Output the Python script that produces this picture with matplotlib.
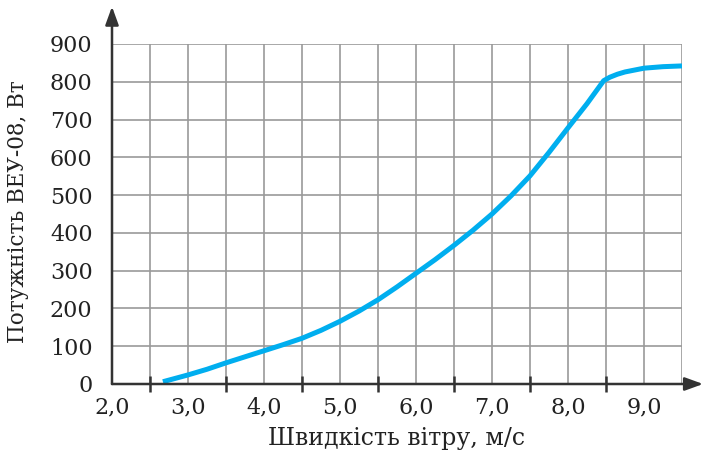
import matplotlib
matplotlib.use('Agg')
import matplotlib.pyplot as plt
from matplotlib.ticker import FixedLocator, FuncFormatter

# wind speed, m/s and power, W
speed = [2.67, 3.0, 3.25, 3.5, 3.75, 4.0, 4.25, 4.5, 4.75, 5.0, 5.25, 5.5, 5.75,
         6.0, 6.25, 6.5, 6.75, 7.0, 7.25, 7.5, 7.75, 8.0, 8.25, 8.47, 8.55,
         8.65, 8.75, 9.0, 9.25, 9.5]
power = [6, 24, 39, 56, 72, 88, 104, 121, 142, 166, 193, 223, 257,
         293, 329, 367, 407, 450, 498, 551, 613, 678, 742, 803, 812,
         820, 826, 836, 840, 842]

x_labels = [2.0, 3.0, 4.0, 5.0, 6.0, 7.0, 8.0, 9.0]
x_marks = [2.5, 3.0, 3.5, 4.0, 4.5, 5.0, 5.5, 6.0, 6.5, 7.0, 7.5, 8.0, 8.5, 9.0]
x_grid = [2.5, 3.0, 3.5, 4.0, 4.5, 5.0, 5.5, 6.0, 6.5, 7.0, 7.5, 8.0, 8.5, 9.0, 9.5]
y_labels = [0, 100, 200, 300, 400, 500, 600, 700, 800, 900]
y_marks = [100, 200, 300, 400, 500, 600, 700, 800]

plt.rcParams['font.family'] = ['DejaVu Serif']
plt.rcParams['font.size'] = 16

fig = plt.figure(figsize=(7.04, 4.57), dpi=100)
ax = fig.add_axes([112 / 704, 73 / 457, 570 / 704, 340 / 457])
ax.set_xlim(2.0, 9.5)
ax.set_ylim(0, 900)

grid_c = '#9a9a9a'
for gx in x_grid:
    ax.axvline(gx, color=grid_c, lw=1.2, zorder=1)
for gy in y_labels[1:]:
    ax.axhline(gy, color=grid_c, lw=1.2, zorder=1)

ax.plot(speed, power, color='#00aeef', lw=3.6, solid_capstyle='butt', zorder=3)

for s in ax.spines.values():
    s.set_visible(False)

# axes with arrow heads
ax_c = '#333333'
arrow = dict(arrowstyle='-|>,head_length=1.1,head_width=0.4', color=ax_c,
             lw=1.8, mutation_scale=10, shrinkA=0, shrinkB=0)
ax.annotate('', xy=(0, 1.11), xytext=(0, 0), xycoords='axes fraction',
            arrowprops=arrow, annotation_clip=False)
ax.annotate('', xy=(1.037, 0), xytext=(0, 0), xycoords='axes fraction',
            arrowprops=arrow, annotation_clip=False)

ax.xaxis.set_major_locator(FixedLocator(x_labels))
ax.xaxis.set_minor_locator(FixedLocator(x_marks))
ax.xaxis.set_major_formatter(FuncFormatter(lambda v, p: f'{v:.1f}'.replace('.', ',')))
ax.yaxis.set_major_locator(FixedLocator(y_labels))
ax.yaxis.set_minor_locator(FixedLocator(y_marks))
ax.tick_params(axis='x', which='major', length=0, pad=9, colors='#222222')
ax.tick_params(axis='x', which='minor', length=12, direction='inout', width=1.8, color=ax_c)
ax.tick_params(axis='y', which='major', length=0, pad=14, colors='#222222')
ax.tick_params(axis='y', which='minor', length=6, direction='out', width=1.8, color=ax_c)

ax.set_xlabel('Швидкість вітру, м/с', color='#222222', fontsize=17, labelpad=6)
fig.text(18 / 704, 1 - 212 / 457, 'Потужність ВЕУ-08, Вт', rotation=90,
         ha='center', va='center', color='#222222', fontsize=15.5)

fig.savefig('out.png', dpi=100)
